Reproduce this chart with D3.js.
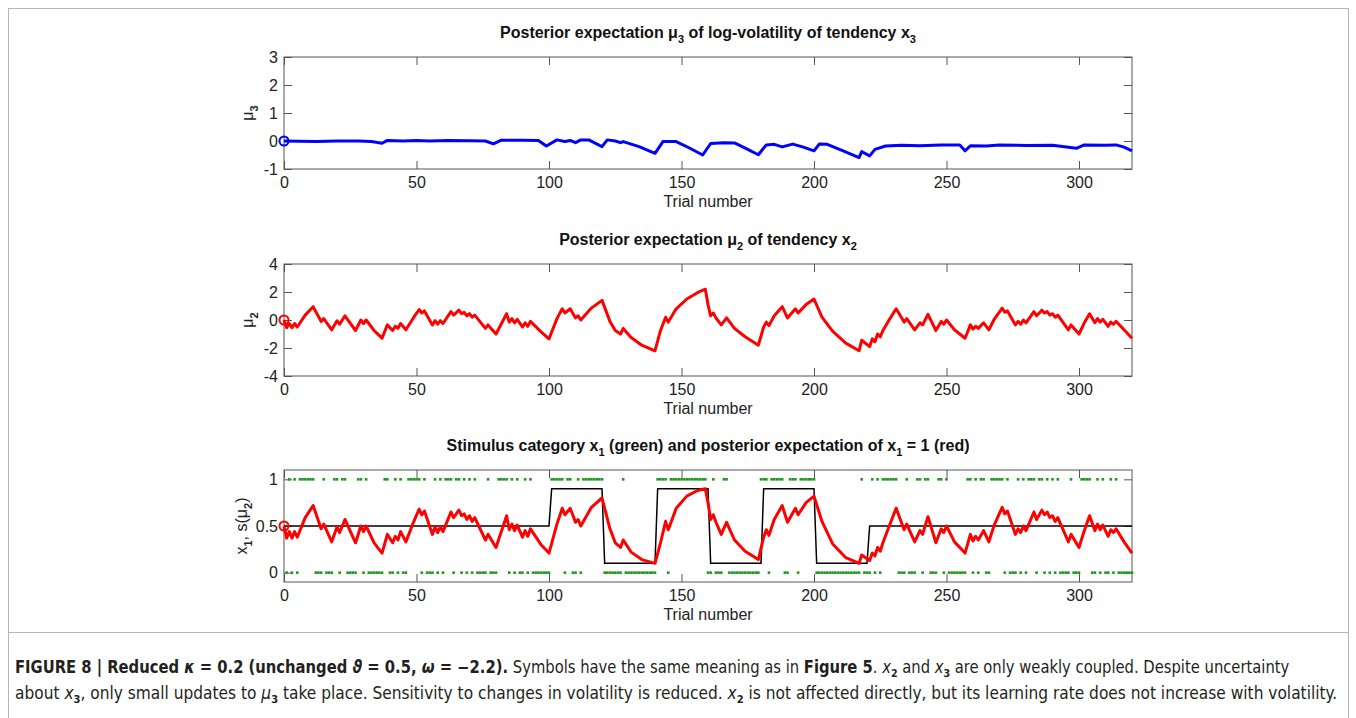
<!DOCTYPE html>
<html>
<head>
<meta charset="utf-8">
<script src="https://cdn.jsdelivr.net/npm/d3@7"></script>
<style>
  html, body { margin: 0; padding: 0; background: #fff; }
  svg { display: block; font-family: "Liberation Sans", Arial, Helvetica, sans-serif; }
</style>
</head>
<body>
<svg id="fig" width="1356" height="718"></svg>
<script>
// ---- data ----
const xTicks = [0, 50, 100, 150, 200, 250, 300];
const mu3Ticks = [-1, 0, 1, 2, 3];
const mu2Ticks = [-4, -2, 0, 2, 4];
const probTicks = [0, 0.5, 1];

// stimulus category x1 for trials 1..320 (1 = top row, 0 = bottom row)
const stimulus = [
  0,1,0,1,0,1,1,1,1,1,1,0,0,0,1,0,0,0,1,1,
  0,1,1,0,0,0,0,1,1,0,1,0,0,0,0,0,0,1,1,0,
  0,1,0,1,0,0,1,1,1,1,1,0,1,0,0,0,1,0,1,0,
  1,1,1,0,1,1,0,1,0,1,0,1,0,0,0,0,1,0,0,0,
  1,1,1,1,0,1,0,1,0,0,1,0,1,0,0,0,0,0,0,0,
  1,1,1,1,1,0,1,1,0,0,1,0,1,1,1,1,1,1,1,1,
  0,0,0,0,0,0,0,1,0,0,0,0,0,0,0,0,0,0,0,0,
  1,1,1,1,0,1,1,1,1,1,1,1,1,1,1,1,1,1,1,0,
  0,1,0,0,0,1,1,0,0,0,0,0,0,0,0,0,0,0,0,1,
  1,1,0,1,1,1,1,1,0,0,1,1,1,0,1,1,1,1,1,1,
  0,0,0,0,0,0,0,0,0,0,0,0,0,0,0,0,0,1,0,0,
  0,1,0,1,0,1,1,1,1,1,1,0,0,0,1,0,0,0,1,1,
  0,1,1,0,0,0,1,1,0,1,0,0,0,0,0,0,0,1,1,0,
  1,0,1,1,0,0,1,1,1,1,1,0,1,0,0,0,1,0,1,0,
  1,1,1,0,1,1,0,1,0,1,0,1,0,0,0,0,1,0,0,0,
  1,1,1,1,0,0,1,0,1,0,0,1,0,1,0,0,0,0,0,0
];

// true probability of x1 = 1 (black line)
const probTrials = [0, 100, 101, 120, 121, 140, 141, 160, 161, 180, 181, 200, 201, 220, 221, 320];
const probValues = [0.5, 0.5, 0.9, 0.9, 0.1, 0.1, 0.9, 0.9, 0.1, 0.1, 0.9, 0.9, 0.1, 0.1, 0.5, 0.5];

// mu2 and s(mu2) at the turning points of the trajectory
const trajTrials = [
  0, 1, 2, 3, 4, 5, 8, 11, 14, 15, 18, 20, 21, 23, 27, 29, 30, 31, 34, 37,
  39, 41, 42, 43, 44, 46, 49, 51, 52, 53, 56, 57, 58, 59, 60, 63, 64, 66, 67, 68,
  69, 70, 71, 72, 76, 77, 80, 84, 85, 86, 87, 88, 90, 91, 92, 93, 97, 100, 103, 105,
  106, 108, 110, 111, 112, 116, 120, 123, 125, 127, 128, 131, 135, 140, 142, 144, 145, 148, 152, 156,
  159, 160, 161, 162, 163, 165, 167, 170, 174, 179, 181, 182, 183, 185, 188, 190, 193, 194, 197, 200,
  203, 207, 212, 217, 218, 221, 222, 223, 224, 225, 226, 228, 231, 234, 235, 238, 240, 241, 243, 246,
  248, 249, 250, 253, 257, 259, 260, 261, 262, 264, 266, 268, 271, 272, 273, 276, 277, 278, 279, 280,
  283, 284, 286, 287, 288, 289, 290, 291, 292, 296, 297, 300, 302, 304, 306, 307, 308, 309, 311, 312,
  313, 314, 317, 320
];
const mu2Values = [
  0, -0.55, -0.25, -0.55, -0.25, -0.5, 0.35, 0.95, -0.1, 0.1, -0.7, -0.05, -0.3, 0.3, -0.75, 0, -0.25, 0, -0.75, -1.3,
  -0.35, -0.75, -0.45, -0.6, -0.25, -0.7, 0.2, 0.75, 0.5, 0.65, -0.35, -0.05, -0.3, -0.05, -0.25, 0.6, 0.35, 0.7, 0.45, 0.55,
  0.3, 0.45, 0.2, 0.35, -0.6, -0.35, -1.0, 0.45, -0.15, 0.1, -0.2, 0.05, -0.5, -0.2, -0.45, -0.1, -0.85, -1.35, 0.1, 0.8,
  0.5, 0.8, 0.15, 0.3, 0, 0.85, 1.4, -0.1, -0.75, -1.0, -0.6, -1.25, -1.8, -2.2, -0.8, 0.2, -0.15, 0.8, 1.5, 1.95,
  2.2, 1.1, 0.3, 0.5, 0.15, -0.35, 0.15, -0.6, -1.2, -1.8, -0.5, -0.15, -0.4, 0.3, 0.95, 0.15, 0.8, 0.5, 1.1, 1.5,
  0.2, -0.8, -1.65, -2.2, -1.45, -1.9, -1.35, -1.55, -1.0, -1.2, -0.75, -0.1, 0.8, -0.15, 0.1, -0.7, -0.2, -0.35, 0.4, -0.75,
  -0.1, -0.3, 0, -0.7, -1.3, -0.35, -0.65, -0.45, -0.6, -0.2, -0.7, 0.05, 0.85, 0.55, 0.65, -0.35, -0.1, -0.3, 0, -0.2,
  0.6, 0.3, 0.7, 0.5, 0.6, 0.35, 0.45, 0.2, 0.35, -0.7, -0.35, -1.0, -0.2, 0.45, -0.2, 0.1, -0.15, 0.05, -0.45, -0.15,
  -0.3, -0.1, -0.7, -1.3
];
const sValues = [
  0.5, 0.37, 0.44, 0.37, 0.44, 0.38, 0.59, 0.72, 0.47, 0.52, 0.33, 0.49, 0.43, 0.57, 0.32, 0.5, 0.44, 0.5, 0.32, 0.21,
  0.41, 0.32, 0.39, 0.35, 0.44, 0.33, 0.55, 0.68, 0.62, 0.66, 0.41, 0.49, 0.43, 0.49, 0.44, 0.65, 0.59, 0.67, 0.61, 0.63,
  0.57, 0.61, 0.55, 0.59, 0.35, 0.41, 0.27, 0.61, 0.46, 0.52, 0.45, 0.51, 0.38, 0.45, 0.39, 0.47, 0.3, 0.21, 0.52, 0.69,
  0.62, 0.69, 0.54, 0.57, 0.5, 0.7, 0.8, 0.47, 0.32, 0.27, 0.35, 0.22, 0.14, 0.1, 0.31, 0.55, 0.46, 0.69, 0.82, 0.88,
  0.9, 0.75, 0.57, 0.62, 0.54, 0.41, 0.54, 0.35, 0.23, 0.14, 0.38, 0.46, 0.4, 0.57, 0.72, 0.54, 0.69, 0.62, 0.75, 0.82,
  0.55, 0.31, 0.16, 0.1, 0.19, 0.13, 0.21, 0.18, 0.27, 0.23, 0.32, 0.47, 0.69, 0.46, 0.52, 0.33, 0.45, 0.41, 0.6, 0.32,
  0.47, 0.43, 0.5, 0.33, 0.21, 0.41, 0.34, 0.39, 0.35, 0.45, 0.33, 0.51, 0.7, 0.63, 0.66, 0.41, 0.47, 0.43, 0.5, 0.45,
  0.65, 0.57, 0.67, 0.62, 0.65, 0.59, 0.61, 0.55, 0.59, 0.33, 0.41, 0.27, 0.45, 0.61, 0.45, 0.52, 0.46, 0.51, 0.39, 0.46,
  0.43, 0.47, 0.33, 0.21
];

// mu3 (log-volatility) turning points
const mu3Trials = [
  0, 6, 12, 20, 28, 33, 37, 39, 45, 50, 55, 62, 70, 76, 79, 82, 90, 96, 99, 103,
  106, 108, 110, 112, 115, 120, 122, 125, 127, 128, 134, 140, 143, 148, 153, 158, 161, 166, 170, 175,
  179, 182, 185, 188, 192, 196, 200, 202, 205, 211, 217, 218, 221, 223, 227, 233, 240, 248, 255, 257,
  259, 265, 270, 280, 290, 299, 302, 310, 314, 317, 320
];
const mu3Values = [
  0, -0.01, -0.02, 0, 0, -0.02, -0.08, 0.02, 0, 0.02, 0, 0.02, 0.01, 0, -0.1, 0.03, 0.03, 0.02, -0.18, 0.04,
  -0.02, 0.02, -0.06, 0.04, 0.04, -0.2, 0.04, 0, -0.06, -0.02, -0.2, -0.44, -0.02, -0.02, -0.25, -0.5, -0.09, -0.06, -0.07, -0.3,
  -0.49, -0.14, -0.12, -0.21, -0.11, -0.22, -0.35, -0.11, -0.12, -0.35, -0.59, -0.38, -0.53, -0.3, -0.18, -0.15, -0.17, -0.14, -0.14, -0.35,
  -0.17, -0.18, -0.14, -0.16, -0.15, -0.26, -0.14, -0.15, -0.14, -0.22, -0.35
];

// ---- drawing ----
const svg = d3.select("#fig");
const axisColor = "#555";
const textColor = "#222";

svg.append("rect").attr("width", 1356).attr("height", 718).attr("fill", "#fff");

// frame round the figure and caption
svg.append("rect")
  .attr("x", 8.5).attr("y", 8.5)
  .attr("width", 1340).attr("height", 730)
  .attr("fill", "none").attr("stroke", "#b5b5b5").attr("stroke-width", 1);
svg.append("line")
  .attr("x1", 8.5).attr("x2", 1348.5)
  .attr("y1", 632.5).attr("y2", 632.5)
  .attr("stroke", "#b5b5b5");

const x = d3.scaleLinear().domain([0, 320]).range([284, 1132]);
const panelH = 112;

// writes text made of [string, style] parts; style: "sub", "i", "b"
function richText(sel, parts, subSize, subShift) {
  let shifted = false;
  parts.forEach(([str, style]) => {
    const t = sel.append("tspan").text(str);
    if (style && style.includes("sub")) {
      t.attr("font-size", subSize).attr("dy", shifted ? 0 : subShift);
      shifted = true;
    } else if (shifted) {
      t.attr("dy", -subShift);
      shifted = false;
    }
    if (style && style.includes("i")) t.attr("font-style", "italic");
    if (style && style.includes("b")) t.attr("font-weight", "bold");
  });
}

function drawPanel(p) {
  const y = d3.scaleLinear().domain(p.domain).range([p.top + panelH, p.top]);
  const g = svg.append("g");

  // inward ticks on all four sides, MATLAB style
  const bottom = g.append("g").attr("transform", `translate(0,${p.top + panelH})`)
    .call(d3.axisBottom(x).tickValues(xTicks).tickSizeInner(-8).tickSizeOuter(0).tickPadding(8)
      .tickFormat(d3.format("d")));
  g.append("g").attr("transform", `translate(0,${p.top})`)
    .call(d3.axisTop(x).tickValues(xTicks).tickSizeInner(-8).tickSizeOuter(0).tickFormat(""));
  const left = g.append("g").attr("transform", `translate(${x(0)},0)`)
    .call(d3.axisLeft(y).tickValues(p.ticks).tickSizeInner(-8).tickSizeOuter(0).tickPadding(6)
      .tickFormat(d => String(d)));
  g.append("g").attr("transform", `translate(${x(320)},0)`)
    .call(d3.axisRight(y).tickValues(p.ticks).tickSizeInner(-8).tickSizeOuter(0).tickFormat(""));

  g.selectAll(".domain").remove();
  g.selectAll(".tick line").attr("stroke", axisColor);
  g.selectAll(".tick text").attr("fill", textColor).attr("font-size", 16)
    .attr("font-family", "Liberation Sans, Arial, sans-serif");

  g.append("rect")
    .attr("x", x(0)).attr("y", p.top)
    .attr("width", x(320) - x(0)).attr("height", panelH)
    .attr("fill", "none").attr("stroke", axisColor).attr("stroke-width", 1);

  // title
  const title = g.append("text")
    .attr("x", (x(0) + x(320)) / 2).attr("y", p.top - 19)
    .attr("text-anchor", "middle").attr("font-size", 16).attr("font-weight", "bold")
    .attr("fill", "#111");
  richText(title, p.title, 11, 5);

  // x label
  g.append("text")
    .attr("x", (x(0) + x(320)) / 2).attr("y", p.top + panelH + 38)
    .attr("text-anchor", "middle").attr("font-size", 16).attr("fill", textColor)
    .text("Trial number");

  // y label
  const yl = g.append("text")
    .attr("transform", `translate(${p.ylabelX},${p.top + panelH / 2}) rotate(-90)`)
    .attr("text-anchor", "middle").attr("dy", "0.35em")
    .attr("font-size", 16).attr("fill", textColor);
  richText(yl, p.ylabel, 11, 5);

  return y;
}

const yMu3 = drawPanel({
  top: 57, domain: [-1, 3], ticks: mu3Ticks, ylabelX: 247,
  title: [["Posterior expectation \u03bc"], ["3", "sub"], [" of log-volatility of tendency x"], ["3", "sub"]],
  ylabel: [["\u03bc"], ["3", "sub"]]
});
const yMu2 = drawPanel({
  top: 264, domain: [-4, 4], ticks: mu2Ticks, ylabelX: 247,
  title: [["Posterior expectation \u03bc"], ["2", "sub"], [" of tendency x"], ["2", "sub"]],
  ylabel: [["\u03bc"], ["2", "sub"]]
});
const yProb = drawPanel({
  top: 470, domain: [-0.1, 1.1], ticks: probTicks, ylabelX: 241,
  title: [["Stimulus category x"], ["1", "sub"], [" (green) and posterior expectation of x"], ["1", "sub"], [" = 1 (red)"]],
  ylabel: [["x"], ["1", "sub"], [", s("], ["\u03bc"], ["2", "sub"], [")"]]
});

// top panel: mu3
svg.append("path")
  .datum(d3.zip(mu3Trials, mu3Values))
  .attr("fill", "none").attr("stroke", "#0000ff").attr("stroke-width", 3)
  .attr("stroke-linejoin", "round")
  .attr("d", d3.line().x(d => x(d[0])).y(d => yMu3(d[1])));
svg.append("circle")
  .attr("cx", x(mu3Trials[0])).attr("cy", yMu3(mu3Values[0])).attr("r", 4.5)
  .attr("fill", "none").attr("stroke", "#0000ff").attr("stroke-width", 2);

// middle panel: mu2
svg.append("path")
  .datum(d3.zip(trajTrials, mu2Values))
  .attr("fill", "none").attr("stroke", "#ff0000").attr("stroke-width", 3)
  .attr("stroke-linejoin", "round")
  .attr("d", d3.line().x(d => x(d[0])).y(d => yMu2(d[1])));
svg.append("circle")
  .attr("cx", x(trajTrials[0])).attr("cy", yMu2(mu2Values[0])).attr("r", 4.5)
  .attr("fill", "none").attr("stroke", "#ff0000").attr("stroke-width", 2);

// bottom panel: inputs, true probability, s(mu2)
svg.append("g").selectAll("rect")
  .data(stimulus.map((u, i) => [i + 1, u]))
  .join("rect")
  .attr("x", d => x(d[0]) - 1.3).attr("y", d => yProb(d[1]) - 1.3)
  .attr("width", 2.6).attr("height", 2.6)
  .attr("fill", "#1c9a1c");

svg.append("path")
  .datum(d3.zip(probTrials, probValues))
  .attr("fill", "none").attr("stroke", "#000").attr("stroke-width", 1.5)
  .attr("d", d3.line().x(d => x(d[0])).y(d => yProb(d[1])));

svg.append("path")
  .datum(d3.zip(trajTrials, sValues))
  .attr("fill", "none").attr("stroke", "#ff0000").attr("stroke-width", 3)
  .attr("stroke-linejoin", "round")
  .attr("d", d3.line().x(d => x(d[0])).y(d => yProb(d[1])));
svg.append("circle")
  .attr("cx", x(trajTrials[0])).attr("cy", yProb(sValues[0])).attr("r", 4.5)
  .attr("fill", "none").attr("stroke", "#ff0000").attr("stroke-width", 2);

// ---- caption ----
const captionLines = [
  { y: 673, right: 1290, parts: [
    ["FIGURE 8 | Reduced ", "b"], ["\u03ba", "bi"], [" = 0.2 (unchanged ", "b"], ["\u03d1", "bi"],
    [" = 0.5, ", "b"], ["\u03c9", "bi"], [" = \u22122.2).", "b"],
    [" Symbols have the same meaning as in "], ["Figure 5", "b"], [". "],
    ["x", "i"], ["2", "sub"], [" and "], ["x", "i"], ["3", "sub"],
    [" are only weakly coupled. Despite uncertainty"]
  ]},
  { y: 699, right: 1338, parts: [
    ["about "], ["x", "i"], ["3", "sub"], [", only small updates to "], ["\u03bc", "i"], ["3", "sub"],
    [" take place. Sensitivity to changes in volatility is reduced. "], ["x", "i"], ["2", "sub"],
    [" is not affected directly, but its learning rate does not increase with volatility."]
  ]}
];

captionLines.forEach(line => {
  const t = svg.append("text")
    .attr("x", 0).attr("y", 0)
    .attr("font-family", "'Liberation Sans Narrow', 'Arial Narrow', 'DejaVu Sans Condensed', sans-serif")
    .attr("font-size", 17).attr("fill", "#231f20");
  richText(t, line.parts, 11, 4);
  const w = t.node().getBBox().width;
  const left = 15;
  t.attr("transform", `translate(${left},${line.y}) scale(${(line.right - left) / w},1)`);
});
</script>
</body>
</html>
